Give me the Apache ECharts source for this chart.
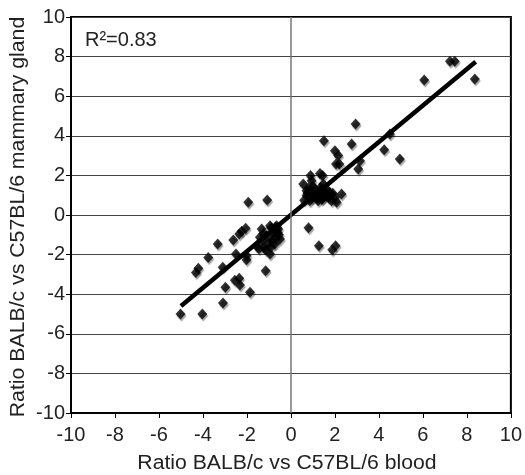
<!DOCTYPE html>
<html>
<head>
<meta charset="utf-8">
<script src="https://cdn.jsdelivr.net/npm/echarts@6/dist/echarts.min.js"></script>
<style>html,body{margin:0;padding:0;background:#fff;}#c{width:525px;height:475px;}</style>
</head>
<body>
<div id="c"></div>
<script>
const xTicks = [-10,-8,-6,-4,-2,0,2,4,6,8,10];
const yTicks = [-10,-8,-6,-4,-2,0,2,4,6,8,10];
const blood = [-5.02,-4.03,-3.09,-2.98,-1.86,-2.55,-2.35,-2.32,-1.15,-4.32,-4.21,-3.76,-3.33,-3.1,-2.62,-2.35,-2.24,-2.06,-2.5,-2.02,-2.02,-1.94,-1.08,
  -1.33,-1.41,-1.56,-1.23,-0.95,-0.92,-0.8,-0.58,-0.73,-0.5,-0.95,-0.65,-1.1,-0.85,-0.7,
  -1.25,-1.0,-0.6,-0.75,-1.45,-1.15,-0.9,-0.55,-1.3,-0.7,
  0.8,1.27,1.88,2.03,
  0.56,0.89,0.94,1.32,1.44,0.71,0.86,1.02,1.24,1.32,1.55,1.62,1.77,1.85,2.08,2.3,1.17,0.71,1.47,2.0,1.1,1.4,
  0.6,0.75,0.95,1.1,1.3,1.5,1.7,0.8,1.0,1.2,1.45,1.65,0.9,1.35,1.9,
  1.5,2.0,2.15,2.05,2.2,2.76,2.94,3.06,3.14,4.24,4.5,4.95,6.06,7.23,7.45,8.36];
const gland = [-5.0,-5.0,-4.44,-3.65,-3.9,-3.3,-3.2,-3.54,-2.81,-2.9,-2.69,-2.15,-1.46,-2.64,-1.26,-0.96,-0.82,-0.67,-1.97,-2.05,-2.26,0.64,0.76,
  -0.71,-1.13,-1.55,-1.63,-1.97,-1.63,-0.88,-0.71,-1.46,-1.21,-0.54,-0.54,-1.04,-1.3,-0.6,
  -0.95,-1.4,-0.9,-1.15,-1.7,-1.75,-0.65,-1.0,-1.3,-0.8,
  -0.64,-1.55,-1.75,-1.55,
  1.57,1.99,1.73,2.1,1.99,0.98,0.72,1.14,0.72,1.23,0.98,1.31,1.14,0.72,0.64,1.06,0.89,1.23,1.57,0.89,1.0,0.8,
  0.75,1.1,0.85,1.3,1.05,1.2,0.9,1.35,1.45,0.95,0.85,1.05,1.2,1.4,1.1,
  3.75,3.25,3.0,2.58,2.58,3.59,4.6,2.32,2.74,3.3,4.09,2.83,6.82,7.76,7.76,6.87];
const fitX = [-5.0, 8.4];
const fitY = [-4.60, 7.74];
const r2Label = 'R²=0.83';
const xTitle = 'Ratio BALB/c vs C57BL/6 blood';
const yTitle = 'Ratio BALB/c vs C57BL/6 mammary gland';

const pts = blood.map((x,i)=>[x, gland[i]]);
const fit = fitX.map((x,i)=>[x, fitY[i]]);
const font = 'Liberation Sans, Arial, sans-serif';

const chart = echarts.init(document.getElementById('c'), null, {renderer:'canvas'});
chart.setOption({
  animation:false,
  backgroundColor:'#fff',
  title:{text:r2Label, left:80, top:25, textStyle:{fontFamily:font, fontSize:20, fontWeight:'normal', color:'#222'}},
  graphic:[
    {type:'text', x:287, y:463, scaleX:1.06, style:{text:xTitle, font:'20px ' + font, fill:'#222', textAlign:'center', textVerticalAlign:'middle'}},
    {type:'text', x:19, y:217, rotation:Math.PI/2, scaleX:1.09, style:{text:yTitle, font:'19.5px ' + font, fill:'#222', textAlign:'center', textVerticalAlign:'middle'}}
  ],
  grid:{left:71, right:14, top:17, bottom:62, show:true, borderColor:'#000', borderWidth:2, backgroundColor:'transparent'},
  xAxis:{type:'value', min:xTicks[0], max:xTicks[xTicks.length-1], interval:2,
    axisLine:{show:true, onZero:false, lineStyle:{color:'#000', width:2}},
    axisTick:{show:true, inside:false, length:5, lineStyle:{color:'#000'}},
    axisLabel:{fontFamily:font, fontSize:20, color:'#222', margin:12},
    splitLine:{show:false}},
  yAxis:{type:'value', min:yTicks[0], max:yTicks[yTicks.length-1], interval:2,
    axisLine:{show:true, onZero:false, lineStyle:{color:'#000', width:2}},
    axisTick:{show:true, inside:false, length:5, lineStyle:{color:'#000'}},
    axisLabel:{fontFamily:font, fontSize:20, color:'#222', margin:6},
    splitLine:{show:true, lineStyle:{color:'#444', width:1}}},
  series:[
    {type:'scatter', data:pts, symbol:'diamond', symbolSize:[10,11],
      itemStyle:{color:'#000', shadowColor:'rgba(0,0,0,0.45)', shadowOffsetX:1, shadowOffsetY:2, shadowBlur:1},
      markLine:{silent:true, symbol:'none', label:{show:false},
        lineStyle:{color:'#777', width:1.5, type:'solid'},
        data:[{xAxis:0}]}, z:3},
    {type:'line', data:fit, showSymbol:false, symbol:'none', lineStyle:{color:'#000', width:4.5}, z:4}
  ]
});
</script>
</body>
</html>
